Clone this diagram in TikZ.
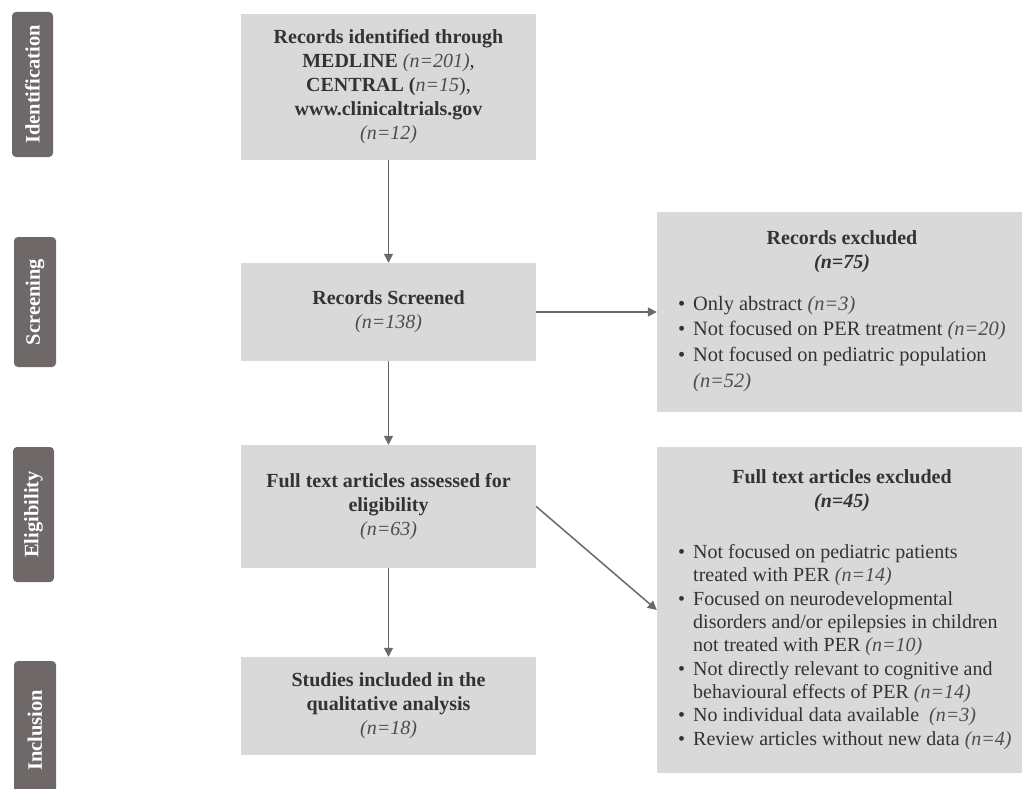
\documentclass[tikz,border=0pt]{standalone}
\usepackage{fontspec}
\setmainfont{Liberation Serif}
\usetikzlibrary{arrows.meta}
\definecolor{tabc}{HTML}{6F6868}
\definecolor{boxc}{HTML}{D9D9D9}
\definecolor{arrc}{HTML}{6E6767}
\definecolor{txtc}{HTML}{333333}
\definecolor{itc}{HTML}{4D4D4D}
\newcommand\blt{\makebox[15pt][l]{\textbullet}}
\newcommand\ind{\hspace*{15pt}}
\newcommand\nn[1]{{\color{itc}\textit{#1}}}
\begin{document}
\begin{tikzpicture}[x=1pt,y=-1pt,
  tabbox/.style={fill=tabc, rounded corners=4pt, draw=none, rotate=90, text=white,
    font=\fontsize{20.5}{20.5}\selectfont\bfseries, inner sep=0},
  flowbox/.style={fill=boxc, draw=none, minimum width=295pt, align=center, text=txtc,
    font=\fontsize{20}{24}\selectfont, inner sep=0},
  exbox/.style={fill=boxc, draw=none, minimum width=365pt, inner sep=0},
  extitle/.style={align=center, text=txtc, font=\fontsize{20}{23.5}\selectfont\bfseries, inner sep=0},
  exlist/.style={align=left, text=txtc, inner sep=0},
  flowarrow/.style={draw=arrc, line width=1.5pt, -{Triangle[length=9pt,width=9pt]}}
]
\clip (0,0) rectangle (1022,789);
\fill[white] (0,0) rectangle (1022,789);

% phase tabs
\node[tabbox, minimum width=145pt, minimum height=41pt] (tid) at (32.5,84.5) {Identification};
\node[tabbox, minimum width=130pt, minimum height=42pt] (tscr) at (35,302) {Screening};
\node[tabbox, minimum width=135pt, minimum height=41pt] (telig) at (33.5,514.5) {Eligibility};
\node[tabbox, minimum width=139pt, minimum height=42pt] (tinc) at (35,730.5) {Inclusion};

% main flow boxes
\node[flowbox, minimum height=146pt] (id) at (388.5,87) {%
  {\bfseries Records identified through}\\
  {\bfseries MEDLINE} \nn{(n=201)},\\
  {\bfseries CENTRAL (}\nn{n=15}),\\
  {\bfseries www.clinicaltrials.gov}\\
  \nn{(n=12)}};
\node[flowbox, minimum height=98pt] (scr) at (388.5,312) {%
  {\bfseries Records Screened}\\
  \nn{(n=138)}};
\node[flowbox, minimum height=123pt] (elig) at (388.5,506.5) {%
  {\bfseries Full text articles assessed for}\\
  {\bfseries eligibility}\\
  \nn{(n=63)}};
\node[flowbox, minimum height=98pt] (inc) at (388.5,706) {%
  {\bfseries Studies included in the}\\
  {\bfseries qualitative analysis}\\
  \nn{(n=18)}};

% exclusion boxes
\node[exbox, minimum height=200pt] (ex1) at (839.5,312) {};
\node[exbox, minimum height=326pt] (ex2) at (839.5,610) {};

\node[extitle, anchor=base] (ex1t) at (842,268) {Records excluded\\\textit{(n=75)}};
\node[exlist, anchor=base west, font=\fontsize{20.4}{25.6}\selectfont] (ex1l) at (678,387) {%
  \blt Only abstract \nn{(n=3)}\\
  \blt Not focused on PER treatment \nn{(n=20)}\\
  \blt Not focused on pediatric population\\
  \ind\nn{(n=52)}};

\node[extitle, anchor=base] (ex2t) at (842,507) {Full text articles excluded\\\textit{(n=45)}};
\node[exlist, anchor=base west, font=\fontsize{20}{23.3}\selectfont] (ex2l) at (678,745) {%
  \blt Not focused on pediatric patients\\
  \ind treated with PER \nn{(n=14)}\\
  \blt Focused on neurodevelopmental\\
  \ind disorders and/or epilepsies in children\\
  \ind not treated with PER \nn{(n=10)}\\
  \blt Not directly relevant to cognitive and\\
  \ind behavioural effects of PER \nn{(n=14)}\\
  \blt No individual data available \ \nn{(n=3)}\\
  \blt Review articles without new data \nn{(n=4)}};

% connectors
\draw[flowarrow] (id.south) -- (scr.north);
\draw[flowarrow] (scr.south) -- (elig.north);
\draw[flowarrow] (elig.south) -- (inc.north);
\draw[flowarrow] (scr.east) -- (ex1.west);
\draw[flowarrow] (elig.east) -- (ex2.west);
\end{tikzpicture}
\end{document}
